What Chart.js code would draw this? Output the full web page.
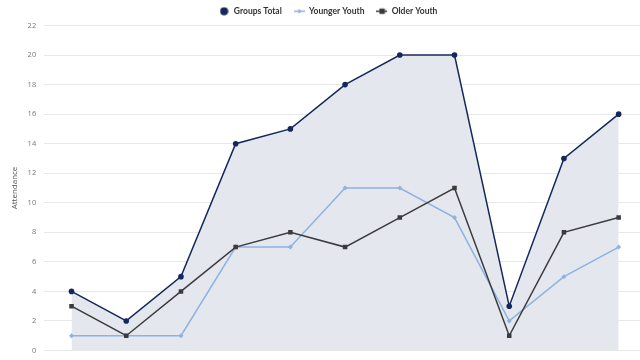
<!DOCTYPE html>
<html><head><meta charset="utf-8">
<script src="https://cdn.jsdelivr.net/npm/chart.js@4"></script>
<style>html,body{margin:0;padding:0;overflow:hidden;background:#fff;width:640px;height:360px}#wrap{width:662px;height:363px;position:relative}</style>
</head><body><div id="wrap"><canvas id="c"></canvas></div>
<script>
const categories = ["1","2","3","4","5","6","7","8","9","10","11"];
const groupsTotal = [4, 2, 5, 14, 15, 18, 20, 20, 3, 13, 16];
const youngerYouth = [1, 1, 1, 7, 7, 11, 11, 9, 2, 5, 7];
const olderYouth = [3, 1, 4, 7, 8, 7, 9, 11, 1, 8, 9];
const yTicks = [0,2,4,6,8,10,12,14,16,18,20,22];

function icon(kind, color){
  const c = document.createElement('canvas');
  const w = kind==='circle'?9:11, h = 9;
  c.width = w; c.height = h;
  const g = c.getContext('2d');
  g.fillStyle = color; g.strokeStyle = color;
  if(kind==='circle'){ g.beginPath(); g.arc(4.5,4.5,4,0,Math.PI*2); g.fill(); }
  else {
    g.lineWidth = 1.5; g.beginPath(); g.moveTo(0,4.5); g.lineTo(11,4.5); g.stroke();
    if(kind==='diamond'){ g.beginPath(); g.moveTo(5.5,2.3); g.lineTo(7.7,4.5); g.lineTo(5.5,6.7); g.lineTo(3.3,4.5); g.closePath(); g.fill(); }
    else { g.fillRect(3,1.8,5.4,5.4); }
  }
  return c;
}
const cGT = '#14285a', cYY = '#8db3e2', cOY = '#3b3b3e';
const icons = [icon('circle',cGT), icon('diamond',cYY), icon('square',cOY)];

new Chart(document.getElementById('c'), {
  type: 'line',
  data: {
    labels: categories,
    datasets: [
      {label:'Groups Total', data: groupsTotal, borderColor:cGT, backgroundColor:'#e4e7ed', fill:'origin', borderWidth:1.5, pointRadius:2.8, pointBackgroundColor:cGT, pointBorderWidth:0, tension:0, order:3},
      {label:'Younger Youth', data: youngerYouth, borderColor:cYY, backgroundColor:cYY, fill:false, borderWidth:1.5, pointStyle:'rectRot', pointRadius:2.5, pointBackgroundColor:cYY, pointBorderWidth:0, tension:0, order:2},
      {label:'Older Youth', data: olderYouth, borderColor:cOY, backgroundColor:cOY, fill:false, borderWidth:1.5, pointStyle:'rect', pointRadius:3.2, pointBackgroundColor:cOY, pointBorderWidth:0, tension:0, order:1}
    ]
  },
  options: {
    responsive:true, maintainAspectRatio:false, animation:false,
    layout:{padding:{left:10, right:16, top:-5, bottom:0}},
    plugins:{
      tooltip:{enabled:false},
      legend:{
        position:'top',
        labels:{
          usePointStyle:true, pointStyleWidth:11, boxHeight:9, padding:12,
          color:'#333', font:{family:'Lato', size:8.5, weight:'bold'},
          generateLabels(chart){
            return chart.data.datasets.map((d,i)=>({text:d.label, pointStyle:icons[i], fillStyle:d.borderColor, strokeStyle:d.borderColor, lineWidth:0, datasetIndex:i, hidden:false, fontColor:'#333'}));
          }
        }
      }
    },
    scales:{
      x:{display:false, offset:true},
      y:{min:0, max:22, afterBuildTicks(s){ s.ticks = yTicks.map(v=>({value:v})); },
        grid:{color:'#e8e8e8', drawTicks:false}, border:{display:false},
        ticks:{color:'#777', font:{family:'Open Sans', size:7.5}, padding:8},
        title:{display:true, text:'Attendance', color:'#555', font:{family:'Open Sans', size:8}, padding:{top:0,bottom:0}}
      }
    }
  }
});
</script></body></html>
